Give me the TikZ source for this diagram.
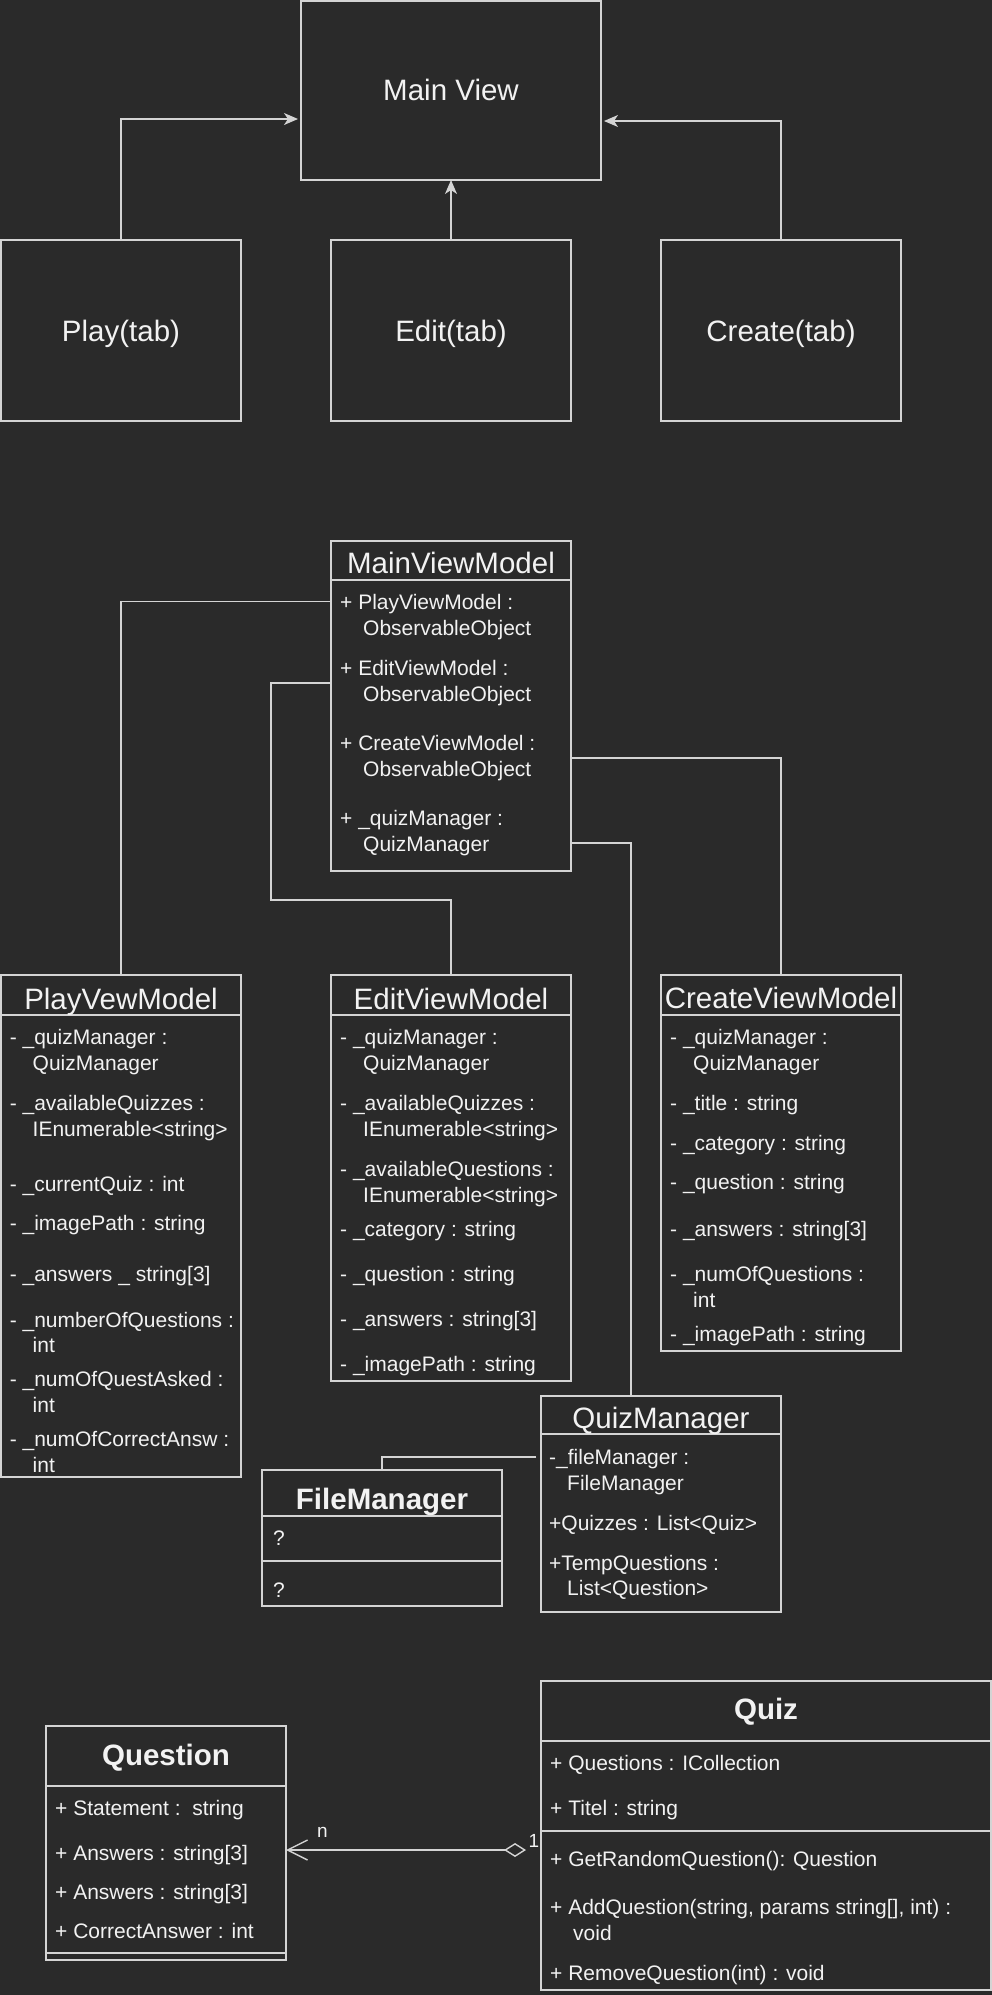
\documentclass[tikz,border=0pt]{standalone}
\usepackage{fontspec}
\setmainfont{Liberation Sans}
\usetikzlibrary{arrows.meta,calc}
\definecolor{bgc}{RGB}{42,42,42}
\definecolor{linec}{RGB}{212,212,212}
\definecolor{txtc}{RGB}{242,242,242}
\newcommand\umlbox[5]{\node[box, minimum width=#4pt, minimum height=#5pt] (#1) at (#2,#3) {};}
\newcommand\attrline[4]{\node[attr] (#1) at (#2,#3) {#4};}
\begin{document}
\begin{tikzpicture}[x=1pt,y=-1pt,
  box/.style={draw=linec, line width=1.4pt, inner sep=0pt, outer sep=0pt, anchor=north west},
  attr/.style={anchor=base west, inner sep=0pt, text=txtc, font=\fontsize{21pt}{25pt}\selectfont},
  ttl/.style={anchor=base, inner sep=0pt, text=txtc, font=\fontsize{29.5pt}{35pt}\selectfont},
  bttl/.style={anchor=base, inner sep=0pt, text=txtc, font=\fontsize{29.5pt}{35pt}\selectfont\bfseries},
  lbl/.style={anchor=base, inner sep=0pt, text=txtc, font=\fontsize{19pt}{23pt}\selectfont},
  conn/.style={draw=linec, line width=1.4pt},
  arr/.style={conn, -{Stealth[length=14pt,width=12pt,inset=4pt]}},
  agg/.style={conn, {Diamond[open,length=22pt,width=14pt]}-{Straight Barb[length=20pt,width=20pt]}},
]
\fill[bgc] (0,0) rectangle (992,1995);
\useasboundingbox (0,0) rectangle (992,1995);

% ---------- top views ----------
\umlbox{mv}{301}{1}{300}{179}
\umlbox{play}{1}{240}{240}{181}
\umlbox{edit}{331}{240}{240}{181}
\umlbox{create}{661}{240}{240}{181}
\node[ttl] (mvt) at (451,100) {Main View};
\node[ttl] (playt) at (121,341) {Play(tab)};
\node[ttl] (editt) at (451,341) {Edit(tab)};
\node[ttl] (createt) at (781,341) {Create(tab)};

\draw[arr, shorten >=3pt] (play.north) |- ([yshift=-28.5pt]mv.west);
\draw[arr] (edit.north) -- (mv.south);
\draw[arr, shorten >=3pt] (create.north) |- ([yshift=-30.5pt]mv.east);

% ---------- MainViewModel ----------
\umlbox{mvmh}{331}{541}{240}{39}
\umlbox{mvmb}{331}{580}{240}{291}
\node[ttl] (mvmt) at (451,573) {MainViewModel};
\attrline{mva1}{340}{609}{+ PlayViewModel :}
\attrline{mva1b}{363}{635.5}{ObservableObject}
\attrline{mva2}{340}{675}{+ EditViewModel :}
\attrline{mva2b}{363}{701.5}{ObservableObject}
\attrline{mva3}{340}{750.5}{+ CreateViewModel :}
\attrline{mva3b}{363}{776.5}{ObservableObject}
\attrline{mva4}{340}{825.5}{+ \_quizManager :}
\attrline{mva4b}{363}{851.5}{QuizManager}

% ---------- PlayVewModel ----------
\umlbox{pvmh}{1}{975}{240}{40}
\umlbox{pvmb}{1}{1015}{240}{462}
\node[ttl] (pvmt) at (121,1009) {PlayVewModel};
\attrline{pa1}{9.6}{1044.5}{- \_quizManager :}
\attrline{pa1b}{32.5}{1070.5}{QuizManager}
\attrline{pa2}{9.6}{1110.5}{- \_availableQuizzes :}
\attrline{pa2b}{32.5}{1136.5}{IEnumerable<string>}
\attrline{pa3}{9.6}{1191.5}{- \_currentQuiz : int}
\attrline{pa4}{9.6}{1230.5}{- \_imagePath : string}
\attrline{pa5}{9.6}{1281.5}{- \_answers \_ string[3]}
\attrline{pa6}{9.6}{1327.5}{- \_numberOfQuestions :}
\attrline{pa6b}{32.5}{1352.5}{int}
\attrline{pa7}{9.6}{1386.5}{- \_numOfQuestAsked :}
\attrline{pa7b}{32.5}{1412.5}{int}
\attrline{pa8}{9.6}{1446.5}{- \_numOfCorrectAnsw :}
\attrline{pa8b}{32.5}{1472}{int}

% ---------- EditViewModel ----------
\umlbox{evmh}{331}{975}{240}{40}
\umlbox{evmb}{331}{1015}{240}{366}
\node[ttl] (evmt) at (451,1009) {EditViewModel};
\attrline{ea1}{340}{1044.5}{- \_quizManager :}
\attrline{ea1b}{363}{1070.5}{QuizManager}
\attrline{ea2}{340}{1110.5}{- \_availableQuizzes :}
\attrline{ea2b}{363}{1136.5}{IEnumerable<string>}
\attrline{ea3}{340}{1176.5}{- \_availableQuestions :}
\attrline{ea3b}{363}{1202.5}{IEnumerable<string>}
\attrline{ea4}{340}{1236.5}{- \_category : string}
\attrline{ea5}{340}{1281.5}{- \_question : string}
\attrline{ea6}{340}{1326.5}{- \_answers : string[3]}
\attrline{ea7}{340}{1371.5}{- \_imagePath : string}

% ---------- CreateViewModel ----------
\umlbox{cvmh}{661}{975}{240}{40}
\umlbox{cvmb}{661}{1015}{240}{336}
\node[ttl] (cvmt) at (781,1008) {CreateViewModel};
\attrline{ca1}{670}{1044.5}{- \_quizManager :}
\attrline{ca1b}{693}{1070.5}{QuizManager}
\attrline{ca2}{670}{1110.5}{- \_title : string}
\attrline{ca3}{670}{1150.5}{- \_category : string}
\attrline{ca4}{670}{1189.5}{- \_question : string}
\attrline{ca5}{670}{1236.5}{- \_answers : string[3]}
\attrline{ca6}{670}{1281.5}{- \_numOfQuestions :}
\attrline{ca6b}{693}{1307.5}{int}
\attrline{ca7}{670}{1341.5}{- \_imagePath : string}

% ---------- QuizManager ----------
\umlbox{qmh}{541}{1396}{240}{38}
\umlbox{qmb}{541}{1434}{240}{178}
\node[ttl] (qmt) at (661,1428) {QuizManager};
\attrline{qa1}{549}{1464.5}{-\_fileManager :}
\attrline{qa1b}{567}{1490.5}{FileManager}
\attrline{qa2}{549}{1530.5}{+Quizzes : List<Quiz>}
\attrline{qa3}{549}{1570.5}{+TempQuestions :}
\attrline{qa3b}{567}{1595.5}{List<Question>}

% ---------- FileManager ----------
\umlbox{fmh}{262}{1470}{240}{46}
\umlbox{fm2}{262}{1516}{240}{45}
\umlbox{fm3}{262}{1561}{240}{45}
\node[bttl] (fmt) at (382,1509) {FileManager};
\attrline{fa1}{273}{1545.5}{?}
\attrline{fa2}{273}{1597.5}{?}

% ---------- Question ----------
\umlbox{qh}{46}{1726}{240}{60}
\umlbox{qb}{46}{1786}{240}{167}
\umlbox{qm}{46}{1953}{240}{7}
\node[bttl] (qt) at (166,1765) {Question};
\attrline{qq1}{55}{1815.5}{+ Statement :\ \ string}
\attrline{qq2}{55}{1860.5}{+ Answers : string[3]}
\attrline{qq3}{55}{1899.5}{+ Answers : string[3]}
\attrline{qq4}{55}{1938.5}{+ CorrectAnswer : int}

% ---------- Quiz ----------
\umlbox{zh}{541}{1681}{450}{60}
\umlbox{za}{541}{1741}{450}{90}
\umlbox{zm}{541}{1831}{450}{159}
\node[bttl] (zt) at (766,1719) {Quiz};
\attrline{za1}{550}{1770.5}{+ Questions : ICollection}
\attrline{za2}{550}{1815.5}{+ Titel : string}
\attrline{zm1}{550}{1866.5}{+ GetRandomQuestion(): Question}
\attrline{zm2}{550}{1914.5}{+ AddQuestion(string, params string[], int) :}
\attrline{zm2b}{573}{1940.5}{void}
\attrline{zm3}{550}{1980.5}{+ RemoveQuestion(int) : void}

% ---------- connectors ----------
\draw[conn] ([yshift=-21.7pt]mvmb.north west) -| (pvmh.north);
\draw[conn] ([yshift=-103pt]mvmb.north west) -- ++(-60,0) |- ([yshift=75pt]evmh.north) -- (evmh.north);
\draw[conn] ([yshift=-178pt]mvmb.north east) -| (cvmh.north);
\draw[conn] ([yshift=-263pt]mvmb.north east) -| ([xshift=-30pt]qmh.north);
\draw[conn, shorten <=4.6pt] ([yshift=-23pt]qmb.north west) -| (fmh.north);

\coordinate (aggS) at ([yshift=-19pt]zm.north west);
\draw[agg, shorten <=15pt] (aggS) -- (aggS -| qb.east);
\node[lbl] (nlbl) at (322.5,1837) {n};
\node[lbl] (onelbl) at (534,1847) {1};
\end{tikzpicture}
\end{document}
